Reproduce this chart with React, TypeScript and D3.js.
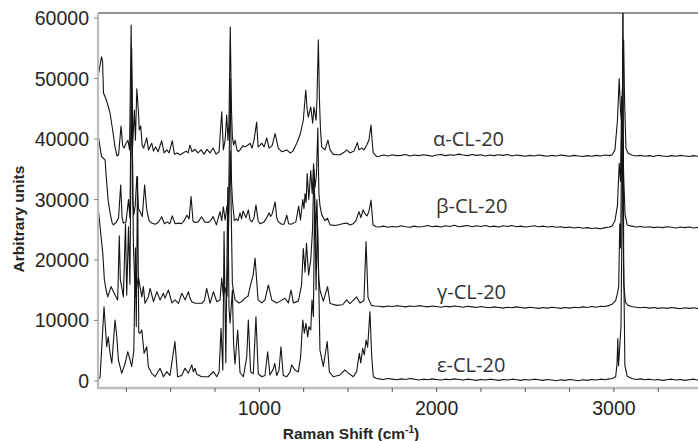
import React from 'react';
import * as d3 from 'd3';

const W = 698;
const H = 441;

const xMajorTicks = [1000, 2000, 3000];
const xMinorTicks = [250, 500, 750, 1000, 1250, 1500, 1750, 2000, 2250, 2500, 2750, 3000, 3250];
const yTicks = [0, 10000, 20000, 30000, 40000, 50000, 60000];
const seriesNames = ['α-CL-20', 'β-CL-20', 'γ-CL-20', 'ε-CL-20'];

const alpha: [number, number][] = [
  [92,50600],[110,53600],[116,52700],[121,47600],[138,46400],[158,44300],[175,41000],[186,38700],[197,37200],[206,37400],[220,42150],[229,38900],[237,38500],[248,39300],[259,39800],[268,38200],[277,58850],[285,38700],[295,44800],[301,39800],[309,48300],[318,44500],[323,41500],[331,42150],[339,39000],[347,38500],[365,40200],[375,38200],[393,39300],[403,38000],[416,38700],[429,37900],[449,39700],[463,37700],[478,38200],[491,37700],[509,39700],[521,37500],[536,37700],[553,37400],[570,37700],[587,38000],[598,37700],[609,39000],[620,37900],[637,38300],[654,37700],[671,38200],[688,37500],[705,38300],[722,37700],[739,38500],[756,37500],[773,37900],[788,44500],[797,38200],[807,39800],[816,44000],[823,39800],[829,43000],[836,58500],[843,44800],[848,40300],[855,39000],[863,39800],[874,38200],[882,37900],[891,38200],[908,38900],[919,38700],[936,39000],[948,39300],[959,38500],[970,39800],[985,42800],[993,38700],[1004,39000],[1014,39300],[1027,38700],[1042,40200],[1055,38500],[1072,38900],[1089,40900],[1107,38500],[1126,37900],[1139,38000],[1155,38200],[1173,37700],[1190,38000],[1211,39300],[1230,40700],[1248,43100],[1262,48100],[1270,44800],[1276,43600],[1290,45300],[1301,42600],[1308,45300],[1320,43100],[1325,46500],[1333,56400],[1339,46500],[1345,41500],[1352,38700],[1370,38200],[1387,39800],[1399,38200],[1416,37500],[1427,37400],[1455,37400],[1478,37800],[1493,38200],[1511,37700],[1534,38000],[1553,39400],[1562,38200],[1579,38500],[1590,38200],[1606,39000],[1618,39800],[1630,42300],[1638,39000],[1643,37700],[1662,37100],
  [1675,37150],[1700,37350],[1725,37200],[1750,37400],[1775,37250],[1800,37300],[1825,37450],[1850,37200],[1875,37350],[1900,37250],[1925,37400],[1950,37300],[1975,37150],[2000,37350],[2025,37450],[2050,37250],[2075,37400],[2100,37300],[2125,37500],[2150,37350],[2175,37250],[2200,37450],[2225,37300],[2250,37400],[2275,37200],[2300,37350],[2325,37250],[2350,37400],[2375,37300],[2400,37450],[2425,37200],[2450,37350],[2475,37250],[2500,37150],[2525,37300],[2550,37200],[2575,37350],[2600,37250],[2625,37150],[2650,37300],[2675,37200],[2700,37350],[2725,37250],[2750,37150],[2775,37300],[2800,37200],[2825,37100],[2850,37250],[2875,37150],[2900,37300],[2925,37200],[2950,37350],[2975,37250],[2990,37400],
  [3006,38200],[3020,43100],[3030,50000],[3037,44800],[3042,43100],[3048,48100],[3055,56400],[3060,46500],[3068,38500],[3079,37700],
  [3100,37350],[3125,37200],[3150,37300],[3175,37150],[3200,37250],[3225,37100],[3250,37300],[3275,37200],[3300,37100],[3325,37250],[3350,37150],[3375,37300],[3400,37200],[3425,37100],[3450,37250],[3475,37150],[3485,37200]
];

const beta: [number, number][] = [
  [92,40400],[110,37100],[121,36800],[130,36500],[138,33200],[147,29900],[158,27800],[170,26100],[177,25800],[192,26200],[206,27000],[218,32400],[226,27000],[233,26100],[248,26300],[262,30000],[270,27000],[280,55000],[286,30000],[292,27500],[300,29000],[309,33800],[318,28500],[327,28000],[340,27200],[353,32400],[365,28300],[378,26500],[393,26100],[412,25900],[430,26200],[449,27150],[465,26000],[480,26300],[495,26000],[509,27300],[525,26000],[545,26100],[560,26000],[573,26400],[592,27400],[604,26800],[615,30500],[626,26400],[637,26200],[655,26300],[674,27150],[692,26300],[711,26200],[725,26500],[739,27200],[758,25800],[778,28000],[788,26500],[797,28800],[807,26600],[818,29000],[826,27500],[836,50000],[843,33000],[848,30000],[859,26500],[870,26800],[880,26500],[891,27800],[900,26800],[908,28100],[925,27000],[938,28300],[948,26600],[959,26300],[970,27000],[981,29100],[993,26500],[1004,26000],[1027,26300],[1042,27000],[1055,27800],[1063,27200],[1072,27600],[1089,29600],[1098,27000],[1107,26300],[1126,25900],[1139,25900],[1155,27400],[1165,26000],[1180,25900],[1206,26300],[1222,28900],[1232,26600],[1245,30000],[1252,28500],[1258,31000],[1264,29500],[1270,34300],[1279,30000],[1290,34800],[1298,31000],[1306,35900],[1314,32000],[1322,34000],[1330,41800],[1336,31000],[1342,29000],[1352,27500],[1370,26500],[1384,26900],[1399,25800],[1430,25700],[1470,26000],[1493,26100],[1511,25800],[1530,26000],[1545,26500],[1562,28000],[1573,27000],[1585,28300],[1599,27500],[1608,27300],[1618,28000],[1630,29900],[1641,25800],[1660,25500],
  [1675,25450],[1700,25600],[1725,25400],[1750,25550],[1775,25450],[1800,25650],[1825,25500],[1850,25400],[1875,25600],[1900,25450],[1925,25550],[1950,25700],[1975,25500],[2000,25600],[2025,25450],[2050,25650],[2075,25550],[2100,25750],[2125,25500],[2150,25600],[2175,25700],[2200,25500],[2225,25650],[2250,25550],[2275,25700],[2300,25500],[2325,25600],[2350,25450],[2375,25650],[2400,25550],[2425,25700],[2450,25500],[2475,25600],[2500,25450],[2525,25550],[2550,25650],[2575,25500],[2600,25600],[2625,25450],[2650,25550],[2675,25400],[2700,25500],[2725,25350],[2750,25450],[2775,25300],[2800,25400],[2825,25250],[2850,25350],[2875,25200],[2900,25300],[2925,25150],[2950,25350],[2975,25450],[2990,25600],
  [3006,26500],[3020,29000],[3030,36000],[3037,33000],[3044,47000],[3050,40000],[3056,33000],[3063,27500],[3075,25800],
  [3100,25600],[3125,25450],[3150,25550],[3175,25400],[3200,25500],[3225,25350],[3250,25450],[3275,25350],[3300,25500],[3325,25400],[3350,25300],[3375,25450],[3400,25350],[3425,25450],[3450,25300],[3475,25400],[3485,25350]
];

const gamma: [number, number][] = [
  [92,28300],[117,21100],[126,16700],[136,15000],[145,13900],[164,15600],[173,15000],[192,13900],[201,13400],[210,24000],[216,16700],[224,15500],[233,13900],[245,26000],[252,14200],[262,25500],[270,16000],[280,50000],[290,22000],[300,13900],[318,17200],[337,13900],[346,15600],[355,12840],[374,13900],[384,15300],[403,13100],[422,14760],[440,13400],[459,14500],[468,13700],[487,15040],[507,12900],[525,13400],[544,12840],[563,14500],[582,13400],[600,14760],[609,13700],[619,13100],[637,12840],[675,12840],[690,13300],[703,15300],[722,12840],[741,14760],[760,13100],[778,13400],[788,17000],[797,14000],[805,15500],[818,14000],[836,38000],[848,16000],[863,13400],[885,12900],[900,13100],[919,13700],[936,14000],[948,15600],[965,17500],[976,20300],[993,13400],[1014,12900],[1032,13400],[1051,15870],[1070,13400],[1098,12900],[1117,13200],[1145,13670],[1164,12900],[1179,15040],[1192,12900],[1220,13200],[1238,15800],[1248,21900],[1258,18000],[1266,22760],[1278,17500],[1290,20000],[1300,25000],[1308,35000],[1316,24000],[1325,30000],[1335,17000],[1342,15040],[1361,13200],[1385,15600],[1399,12800],[1436,12500],[1470,12600],[1493,13400],[1511,12800],[1549,13900],[1568,12900],[1590,13300],[1602,23030],[1613,13800],[1632,12500],[1650,12400],
  [1675,12350],[1700,12250],[1725,12400],[1750,12300],[1775,12450],[1800,12350],[1825,12250],[1850,12400],[1875,12300],[1900,12450],[1925,12350],[1950,12250],[1975,12400],[2000,12300],[2025,12200],[2050,12350],[2075,12250],[2100,12400],[2125,12300],[2150,12200],[2175,12350],[2200,12250],[2225,12150],[2250,12300],[2275,12200],[2300,12100],[2325,12250],[2350,12150],[2375,12050],[2400,12200],[2425,12100],[2450,12250],[2475,12150],[2500,12050],[2525,12200],[2550,12100],[2575,12000],[2600,12150],[2625,12050],[2650,12200],[2675,12100],[2700,12000],[2725,12150],[2750,12050],[2775,12200],[2800,12100],[2825,12250],[2850,12150],[2875,12300],[2900,12200],[2925,12350],[2950,12300],[2975,12500],[2990,12700],
  [3010,13300],[3020,14500],[3027,15600],[3033,26000],[3038,22000],[3045,44000],[3050,30000],[3056,16000],[3065,13000],[3080,12500],
  [3100,12300],[3125,12200],[3150,12100],[3175,12200],[3200,12050],[3225,12150],[3250,12000],[3275,12100],[3300,12000],[3325,12150],[3350,12050],[3375,11950],[3400,12100],[3425,12000],[3450,12100],[3475,11950],[3485,12050]
];

const epsilon: [number, number][] = [
  [92,200],[102,700],[112,6000],[124,12280],[139,5670],[148,7320],[158,4580],[168,2930],[186,10080],[196,7320],[205,3470],[224,1270],[243,2930],[258,4840],[271,3470],[280,2360],[292,5000],[301,22000],[306,9000],[313,33800],[320,8000],[327,7880],[337,8430],[350,4580],[365,5670],[374,2360],[393,1270],[412,710],[440,2100],[459,700],[478,1540],[496,900],[524,6500],[539,700],[562,900],[581,2100],[600,1300],[619,2650],[628,1500],[637,2100],[647,1100],[675,700],[712,700],[741,1540],[760,700],[773,1500],[784,8700],[794,1800],[801,24700],[811,3000],[822,32000],[829,12000],[835,9540],[848,15040],[855,6000],[863,2800],[878,8430],[891,1400],[910,700],[929,4000],[938,10080],[951,1500],[966,1200],[981,10630],[994,1200],[1014,700],[1032,900],[1047,4840],[1060,1000],[1079,2000],[1087,2930],[1098,900],[1111,1800],[1122,5670],[1135,900],[1155,700],[1173,1500],[1183,2650],[1201,1800],[1220,1500],[1233,4000],[1245,10080],[1254,7900],[1263,9540],[1273,7300],[1280,8980],[1290,8430],[1297,13400],[1305,10630],[1312,31000],[1320,15040],[1327,27000],[1334,18000],[1342,5100],[1361,2400],[1383,6500],[1395,1500],[1417,700],[1455,1000],[1483,1820],[1502,1300],[1530,700],[1549,1540],[1564,4580],[1572,3000],[1583,5400],[1592,4300],[1602,6780],[1611,5600],[1624,11460],[1634,4000],[1643,710],[1662,400],
  [1675,350],[1700,250],[1725,400],[1750,300],[1775,200],[1800,350],[1825,250],[1850,400],[1875,300],[1900,150],[1925,300],[1950,200],[1975,350],[2000,250],[2025,150],[2050,300],[2075,200],[2100,350],[2125,250],[2150,150],[2175,300],[2200,200],[2225,100],[2250,250],[2275,150],[2300,300],[2325,200],[2350,100],[2375,250],[2400,150],[2425,300],[2450,200],[2475,100],[2500,250],[2525,150],[2550,300],[2575,200],[2600,100],[2625,250],[2650,150],[2675,50],[2700,200],[2725,100],[2750,250],[2775,150],[2800,50],[2825,200],[2850,100],[2875,250],[2900,150],[2925,300],[2950,200],[2975,350],[2990,400],
  [3010,700],[3018,3000],[3022,7000],[3026,2500],[3040,9000],[3047,30000],[3051,75000],[3055,20000],[3062,2500],[3075,800],
  [3100,400],[3125,250],[3150,350],[3175,200],[3200,300],[3225,150],[3250,250],[3275,100],[3300,200],[3325,300],[3350,150],[3375,250],[3400,100],[3425,200],[3450,300],[3475,150],[3485,200]
];

const seriesData = [alpha, beta, gamma, epsilon];

// label layout (pixels)
const labelLayout = [
  { x: 433, y: 146 },
  { x: 436, y: 213 },
  { x: 437, y: 299 },
  { x: 437, y: 372 },
];

export default function App() {
  const left = 98;
  const top = 13;
  const bottom = 388;
  const right = 699;

  const x = d3.scaleLinear().domain([90, 3480]).range([left, right]);
  const y = d3.scaleLinear().domain([-1160, 60830]).range([bottom, top]);

  const line = d3
    .line<[number, number]>()
    .x((d) => x(d[0]))
    .y((d) => y(d[1]));

  const tickFont = "'Liberation Sans', Arial, sans-serif";

  return (
    <svg
      width={W}
      height={H}
      viewBox={`0 0 ${W} ${H}`}
      style={{ position: 'absolute', left: 0, top: 0, background: '#fff' }}
    >
      <defs>
        <clipPath id="plotClip">
          <rect x={left} y={top} width={W - left} height={bottom - top} />
        </clipPath>
      </defs>
      <rect x={0} y={0} width={W} height={H} fill="#fff" />

      <line x1={left} x2={W} y1={top} y2={top} stroke="#6e6e6e" strokeWidth={1.5} />

      <g clipPath="url(#plotClip)">
        {seriesData.map((s, i) => (
          <path
            key={i}
            d={line(s) || ''}
            fill="none"
            stroke="#141414"
            strokeWidth={1.1}
            strokeLinejoin="round"
          />
        ))}
      </g>

      <line x1={left} x2={left} y1={top} y2={bottom + 1} stroke="#bdbdbd" strokeWidth={2.2} />
      {yTicks.map((t) => (
        <g key={t}>
          <line x1={left - 4} x2={left} y1={y(t)} y2={y(t)} stroke="#8a8a8a" strokeWidth={1} />
          <text
            x={89}
            y={y(t) + 7}
            textAnchor="end"
            fontFamily={tickFont}
            fontSize={19.5}
            fill="#262626"
          >
            {t}
          </text>
        </g>
      ))}

      <line x1={left - 1} x2={W} y1={bottom} y2={bottom} stroke="#bdbdbd" strokeWidth={2.5} />
      {xMinorTicks.map((t) => (
        <line key={t} x1={x(t)} x2={x(t)} y1={bottom} y2={bottom + 4} stroke="#555" strokeWidth={1} />
      ))}
      {xMajorTicks.map((t) => (
        <text
          key={t}
          x={x(t)}
          y={415}
          textAnchor="middle"
          fontFamily={tickFont}
          fontSize={19.5}
          fill="#262626"
        >
          {t}
        </text>
      ))}

      <text
        x={351}
        y={438.5}
        textAnchor="middle"
        fontFamily={tickFont}
        fontWeight="bold"
        fontSize={15.5}
        fill="#262626"
      >
        Raman Shift (cm
        <tspan fontSize={10} dy={-6}>-1</tspan>
        <tspan dy={6}>)</tspan>
      </text>
      <text
        transform="translate(23.5,219) rotate(-90)"
        textAnchor="middle"
        fontFamily={tickFont}
        fontWeight="bold"
        fontSize={15.5}
        fill="#262626"
      >
        Arbitrary units
      </text>

      {seriesNames.map((n, i) => (
        <text
          key={n}
          x={labelLayout[i].x}
          y={labelLayout[i].y}
          fontFamily="'Open Sans', 'Noto Sans', sans-serif"
          fontSize={20}
          fill="#333"
        >
          {n}
        </text>
      ))}
    </svg>
  );
}
